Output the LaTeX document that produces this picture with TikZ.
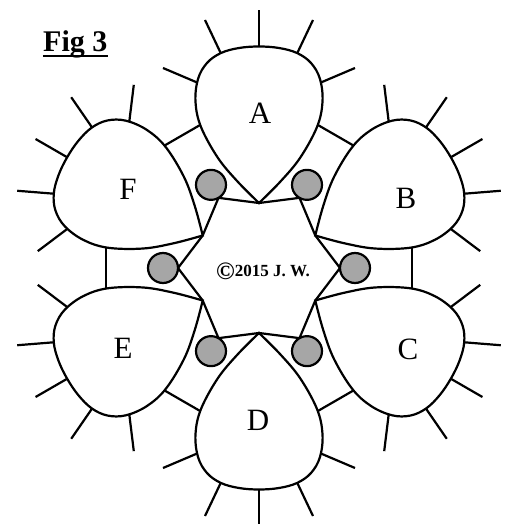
\documentclass[tikz,border=0pt]{standalone}
\usepackage{fontspec}
\setmainfont{Liberation Serif}
\usepackage{tikz}
\definecolor{knob}{RGB}{166,166,166}
\tikzset{outline/.style={line width=2.2pt},
  knobfill/.style={outline, fill=knob},
  lettr/.style={font=\fontsize{31}{31}\selectfont, inner sep=0pt}}

% one lobe, its point towards the middle
\newcommand{\lobe}[1]{%
  \begin{scope}[shift={(#1:65)}, rotate=#1-90]
    \draw [outline] (0,150) -- (0,193);
    \draw [outline] (35,143) -- (54,183);
    \draw [outline] (-35,143) -- (-54,183);
    \draw [outline] (56,118) -- (96,135);
    \draw [outline] (-56,118) -- (-96,135);
    \draw [outline, fill=white] plot [smooth, tension=0.6] coordinates {
      (0,0) (-21,21) (-41,45) (-58,76) (-63.5,101) (-61,124) (-52,140)
      (-38,150) (-20,155) (0,156.5) (20,155) (38,150) (52,140) (61,124)
      (63.5,101) (58,76) (41,45) (21,21) (0,0)} -- cycle;
  \end{scope}}

\begin{document}
\begin{tikzpicture}[x=1pt,y=1pt]

    \useasboundingbox (-259,-256) rectangle (254,268);

    % bars between the lobes
    \draw [outline] (111.5:155) -- (128.5:155);
    \draw [outline] (171.5:155) -- (188.5:155);
    \draw [outline] (231.5:155) -- (248.5:155);
    \draw [outline] (291.5:155) -- (308.5:155);
    \draw [outline] (351.5:155) -- (368.5:155);
    \draw [outline] (51.5:155) -- (68.5:155);

    \lobe{90}
    \lobe{150}
    \lobe{210}
    \lobe{270}
    \lobe{330}
    \lobe{30}

    % the middle
    \draw [outline, line join=round] (90:65) -- (120:81) -- (150:65) -- (180:81)
      -- (210:65) -- (240:81) -- (270:65) -- (300:81) -- (330:65)
      -- (0:81) -- (30:65) -- (60:81) -- cycle;

    \draw [knobfill] (0:96) circle (15);
    \draw [knobfill] (60:96) circle (15);
    \draw [knobfill] (120:96) circle (15);
    \draw [knobfill] (180:96) circle (15);
    \draw [knobfill] (240:96) circle (15);
    \draw [knobfill] (300:96) circle (15);

    \node [lettr] (labA) at (1,155) {A};
    \node [lettr] (labB) at (147,70) {B};
    \node [lettr] (labC) at (149,-81) {C};
    \node [lettr] (labD) at (-1,-152) {D};
    \node [lettr] (labE) at (-136,-80) {E};
    \node [lettr] (labF) at (-131,79) {F};

    \node [font=\bfseries\fontsize{17}{17}\selectfont] (copy) at (4,-3)
      {\raisebox{-3pt}{\fontsize{25}{25}\selectfont\textcopyright}2015 J.\ W.};

    \node [font=\bfseries\fontsize{30}{30}\selectfont, inner sep=0pt,
      anchor=base west] (fig) at (-216,216) {Fig 3};
    \draw [line width=1.6pt] ([yshift=-4pt]fig.base west) -- ([yshift=-4pt]fig.base east);

\end{tikzpicture}
\end{document}
